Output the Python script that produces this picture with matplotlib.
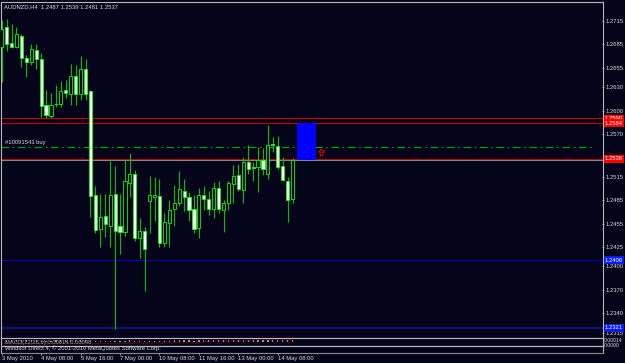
import matplotlib
matplotlib.use('Agg')
import matplotlib.pyplot as plt
import matplotlib.transforms as mtrans
from matplotlib.path import Path

# data

chart_title = 'AUDNZD,H4  1.2487 1.2539 1.2481 1.2537'

opens = [1.2682, 1.2707, 1.2687, 1.2682, 1.2696, 1.2667, 1.2662, 1.2678, 1.2666, 1.2607,
         1.2593, 1.2609, 1.2608, 1.2627, 1.2621, 1.2644, 1.2621, 1.2653, 1.2625, 1.2492,
         1.2448, 1.2465, 1.2452, 1.2493, 1.2452, 1.2444, 1.2507, 1.2519, 1.2436, 1.2446,
         1.2484, 1.2489, 1.2490, 1.2430, 1.2456, 1.2474, 1.2481, 1.2497, 1.2489, 1.2474,
         1.2449, 1.2492, 1.2486, 1.2474, 1.2500, 1.2473, 1.2482, 1.2506, 1.2517, 1.2498,
         1.2534, 1.2527, 1.2527, 1.2537, 1.2519, 1.2557, 1.2555, 1.2529, 1.2510, 1.2487]
highs = [1.2716, 1.2718, 1.2711, 1.2707, 1.2699, 1.2671, 1.2685, 1.2686, 1.2674, 1.2626,
         1.2622, 1.2633, 1.2638, 1.2639, 1.2660, 1.2658, 1.2670, 1.2666, 1.2626, 1.2503,
         1.2493, 1.2493, 1.2535, 1.2529, 1.2493, 1.2537, 1.2545, 1.2524, 1.2462, 1.2451,
         1.2516, 1.2515, 1.2512, 1.2468, 1.2485, 1.2504, 1.2522, 1.2512, 1.2496, 1.2492,
         1.2501, 1.2503, 1.2497, 1.2508, 1.2509, 1.2485, 1.2509, 1.2530, 1.2532, 1.2541,
         1.2556, 1.2534, 1.2553, 1.2552, 1.2582, 1.2566, 1.2568, 1.2541, 1.2515, 1.2539]
lows = [1.2637, 1.2677, 1.2680, 1.2680, 1.2656, 1.2643, 1.2659, 1.2653, 1.2592, 1.2590,
        1.2590, 1.2604, 1.2604, 1.2616, 1.2607, 1.2607, 1.2614, 1.2614, 1.2464, 1.2443,
        1.2425, 1.2438, 1.2425, 1.2320, 1.2416, 1.2439, 1.2489, 1.2433, 1.2411, 1.2369,
        1.2443, 1.2458, 1.2425, 1.2425, 1.2425, 1.2452, 1.2477, 1.2471, 1.2458, 1.2443,
        1.2436, 1.2472, 1.2466, 1.2462, 1.2468, 1.2444, 1.2472, 1.2482, 1.2497, 1.2482,
        1.2519, 1.2509, 1.2496, 1.2517, 1.2512, 1.2547, 1.2525, 1.2509, 1.2457, 1.2481]
closes = [1.2705, 1.2685, 1.2682, 1.2698, 1.2668, 1.2662, 1.2679, 1.2666, 1.2606, 1.2595,
          1.2607, 1.2608, 1.2625, 1.2622, 1.2645, 1.2621, 1.2654, 1.2621, 1.2490, 1.2447,
          1.2464, 1.2454, 1.2492, 1.2445, 1.2444, 1.2509, 1.2518, 1.2437, 1.2445, 1.2422,
          1.2492, 1.2491, 1.2430, 1.2457, 1.2473, 1.2481, 1.2499, 1.2489, 1.2473, 1.2448,
          1.2492, 1.2487, 1.2474, 1.2501, 1.2474, 1.2481, 1.2507, 1.2516, 1.2499, 1.2534,
          1.2525, 1.2526, 1.2537, 1.2525, 1.2556, 1.2556, 1.2528, 1.2511, 1.2485, 1.2537]

date_tick_bars = [0, 8, 16, 24, 32, 40, 48, 56]
date_tick_labels = ['3 May 2010', '4 May 08:00', '5 May 16:00', '7 May 00:00',
                    '10 May 08:00', '11 May 16:00', '13 May 00:00', '14 May 08:00']

price_ticks = [1.2715, 1.2685, 1.2655, 1.2630, 1.2600, 1.2570, 1.2515, 1.2485,
               1.2455, 1.2425, 1.2400, 1.2370, 1.2340, 1.2315]

red_levels = [1.2590, 1.2584, 1.2538]
blue_levels = [1.2408, 1.2321]
bid_price = 1.2537
order_price = 1.2553
order_label = '#10091543 buy'
box_bars = [59.83, 63.68]
box_prices = [1.2536, 1.2584]
arrow_bar = 64.8
arrow_price = 1.2547

# MACD sub window (arbitrary units)
macd_signal = [9.0, 9.0, 9.0, 9.0, 9.0, 9.0, 9.0, 9.2, 9.2, 9.2,
               9.2, 9.2, 9.2, 9.2, 9.2, 9.2, 9.2, 9.2, 9.2, 9.2,
               9.4, 9.4, 9.4, 9.4, 9.4, 9.4, 9.4, 9.6, 9.6, 9.6,
               9.8, 9.8, 9.8, 9.8, 10.0, 10.0, 10.0, 10.0, 10.0, 10.0,
               10.6, 11.0, 11.4, 11.7, 11.7, 11.7, 11.7, 11.7, 11.7, 11.7,
               12.2, 12.6, 13.0, 13.0, 13.0, 13.0, 13.0, 13.0, 13.0, 13.0]
macd_hist = [1.5, 1.6, 1.4, 1.5, 1.3, 1.2, 1.4, 1.3, 1.0, 0.9,
             1.0, 1.1, 1.2, 1.2, 1.4, 1.3, 1.5, 1.4, 0.8, 0.6,
             0.7, 0.7, 0.9, 0.7, 0.7, 1.0, 1.1, 0.8, 0.8, 0.6,
             0.9, 1.0, 0.8, 0.9, 1.0, 1.1, 1.2, 1.2, 1.1, 1.0,
             1.2, 1.2, 1.1, 1.3, 1.2, 1.2, 1.4, 1.5, 1.4, 1.6,
             1.6, 1.6, 1.7, 1.6, 1.8, 1.8, 1.7, 1.6, 1.4, 1.6]

# style

bg = '#05041a'
frame = '#b8b8b8'
txt = '#dcdcdc'
plt.rcParams['font.family'] = ['Liberation Sans', 'DejaVu Sans']
fs = 4.2

fig = plt.figure(figsize=(6.25, 3.63), dpi=100, facecolor=bg)

W, H = 625.0, 363.0
ax = fig.add_axes([1.5 / W, 1 - 337.7 / H, 601.5 / W, 336.2 / H], facecolor=bg)
sub = fig.add_axes([1.5 / W, 1 - 352.7 / H, 601.5 / W, 15.0 / H], facecolor=bg)

xlim = (-0.04, 121.97)

# candles
n = len(opens)
xs = list(range(n))
bodies = [c - o for o, c in zip(opens, closes)]
fills = ['#ffffff' if c < o else bg for o, c in zip(opens, closes)]

ax.vlines(xs, lows, highs, colors='#00be00', linewidth=0.8, zorder=3)
ax.bar(xs, bodies, bottom=opens, width=0.64, color=fills,
       edgecolor='#00ff00', linewidth=0.6, zorder=4)

# levels
for lv in red_levels:
  ax.axhline(lv, color='#c00000', linewidth=0.8, zorder=2)
ax.axhline(bid_price, color='#a0a0a0', linewidth=0.6, zorder=2)
ax.axhline(blue_levels[0], color='#0000c8', linewidth=0.7, zorder=2)
ax.axhline(blue_levels[1], color='#14146e', linewidth=1.6, zorder=2)

ax.plot([xlim[0], 120.4], [order_price, order_price], color='#00a000',
        linewidth=0.9, linestyle=(0, (6, 3, 1.2, 3)), zorder=2)
ax.text(0.6, order_price + 0.00025, order_label, color=txt, fontsize=fs,
        ha='left', va='bottom', zorder=5)

ax.fill_between(box_bars, box_prices[0], box_prices[1], color='#0000ff',
                linewidth=0, zorder=3)

arrow = Path([(0, 1), (-1, 0.15), (-0.4, 0.15), (-0.4, -1), (0.4, -1),
              (0.4, 0.15), (1, 0.15), (0, 1)])
ax.plot([arrow_bar], [arrow_price], marker=arrow, markersize=4.5,
        markerfacecolor='none', markeredgecolor='#d00000', markeredgewidth=0.8,
        linestyle='none', zorder=5)

ax.set_xlim(*xlim)
ax.set_ylim(1.23084, 1.27401)

ax.text(0.004, 0.985, chart_title, transform=ax.transAxes, color=txt,
        fontsize=fs, ha='left', va='center')

# price axis
ax.yaxis.tick_right()
ax.set_yticks(price_ticks)
ax.set_yticklabels([f'{p:.4f}' for p in price_ticks])
ax.tick_params(axis='y', colors=frame, labelcolor=txt, labelsize=fs,
               length=1.5, width=0.6, pad=1.2, direction='inout')
ax.set_xticks([])
for s in ax.spines.values():
  s.set_color(frame)
  s.set_linewidth(0.8)

lbl_tr = mtrans.blended_transform_factory(ax.transAxes, ax.transData)
for lv in red_levels:
  ax.text(1.003, lv, f'{lv:.4f}', transform=lbl_tr, color='#ffffff',
          fontsize=fs, ha='left', va='center', zorder=6, clip_on=False,
          bbox=dict(boxstyle='square,pad=0.2', fc='#ff0000', ec='none'))
for lv in blue_levels:
  ax.text(1.003, lv, f'{lv:.4f}', transform=lbl_tr, color='#ffffff',
          fontsize=fs, ha='left', va='center', zorder=6, clip_on=False,
          bbox=dict(boxstyle='square,pad=0.2', fc='#0a1aff', ec='none'))

# sub window
sub.set_xlim(*xlim)
sub.set_ylim(0, 15)
sub.axhline(7, color=frame, linewidth=0.9)
sub.bar(xs, macd_hist, bottom=11.2, width=0.25, color='#9a9a9a', linewidth=0)
sub.plot(xs, macd_signal, color='#d00000', linewidth=0.7, linestyle=(0, (1, 1.2)))
sub.text(0.005, 0.66, 'MACD(12,26,9) 0.00014 0.00048', transform=sub.transAxes,
         color='#a0a0a0', fontsize=fs, ha='left', va='center')
sub.text(0.005, 0.27, 'Windsor Direct 4, \u00a9 2001-2010 MetaQuotes Software Corp.',
         transform=sub.transAxes, color=txt, fontsize=fs, ha='left', va='center')
sub.text(1.002, 0.78, '0.00014', transform=sub.transAxes, color=txt,
         fontsize=3.7, ha='left', va='center', clip_on=False)
sub.text(1.002, 0.50, '0.0000', transform=sub.transAxes, color=txt,
         fontsize=3.7, ha='left', va='center', clip_on=False)
sub.set_yticks([])
sub.set_xticks(date_tick_bars)
sub.set_xticklabels(date_tick_labels)
for t in sub.get_xticklabels():
  t.set_horizontalalignment('left')
sub.tick_params(axis='x', colors=frame, labelcolor=txt, labelsize=fs,
                length=1.5, width=0.6, pad=1.0)
for name, s in sub.spines.items():
  s.set_color(frame if name != 'bottom' else '#8a8a8a')
  s.set_linewidth(0.8)

fig.savefig('out.png', dpi=100, facecolor=bg)
